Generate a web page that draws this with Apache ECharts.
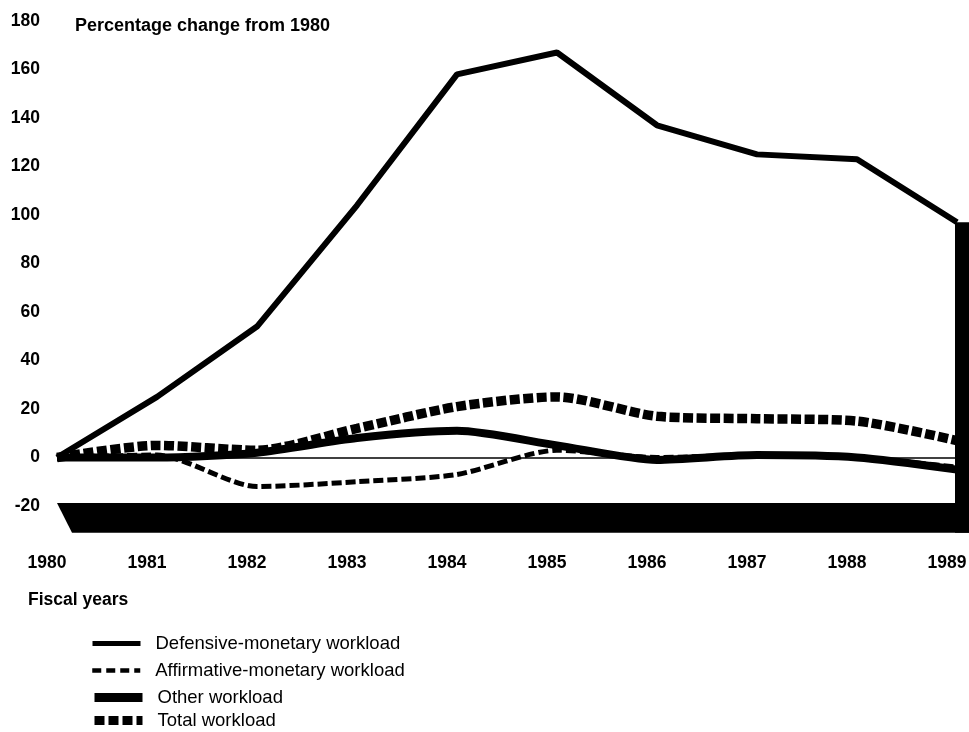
<!DOCTYPE html>
<html>
<head>
<meta charset="utf-8">
<script src="https://cdn.jsdelivr.net/npm/echarts@6/dist/echarts.min.js"></script>
<style>
  html, body { margin: 0; padding: 0; background: #fff; }
  #chart { width: 969px; height: 732px; }
</style>
</head>
<body>
<div id="chart"></div>
<script>
// fiscal years and percentage change from 1980
var years = [1980, 1981, 1982, 1983, 1984, 1985, 1986, 1987, 1988, 1989];
var defensive = [0, 25, 54, 104, 158, 167, 137, 125, 123, 97];
var affirmative = [0, 1, -12, -10, -7, 3, 0, 1, 0, -4];
var other = [0, 0, 2, 8, 11, 5, -1, 1, 0, -5];
var total = [0, 5, 3, 12, 21, 25, 17, 16, 15, 7];
var yTicks = [-20, 0, 20, 40, 60, 80, 100, 120, 140, 160, 180];

// black base band under the plot and the bar on the right edge
var band = [[1980, -18.8], [1989.12, -18.8], [1989.12, -31], [1980.15, -31]];
var edgeBar = [[1988.98, 97], [1989.12, 97], [1989.12, -31], [1988.98, -31]];

var FONT = '"Liberation Sans", Arial, sans-serif';

function pairs(vals) {
  return years.map(function (y, i) { return [y, vals[i]]; });
}

// one legend block per row, stacked under the axis
var legendRows = [
  { name: 'Defensive-monetary workload', lineStyle: { width: 5, type: 'solid' } },
  { name: 'Affirmative-monetary workload', lineStyle: { width: 4.5, type: [9, 5] } },
  { name: 'Other workload', lineStyle: { width: 9, type: 'solid' } },
  { name: 'Total workload', lineStyle: { width: 9, type: [10, 4] } }
];
var legendTops = [634, 661, 688, 711];

var chart = echarts.init(document.getElementById('chart'));

var option = {
  backgroundColor: '#fff',
  animation: false,
  title: [{
    text: 'Percentage change from 1980',
    left: 70, top: 12,
    textStyle: { fontFamily: FONT, fontSize: 18, fontWeight: 'bold', color: '#000' }
  }, {
    text: 'Fiscal years',
    left: 23, top: 586,
    textStyle: { fontFamily: FONT, fontSize: 17.5, fontWeight: 'bold', color: '#000' }
  }],
  grid: { left: 57, right: 12, top: 21, bottom: 177.5, outerBoundsMode: 'none' },
  xAxis: {
    type: 'value',
    min: 1980, max: 1989, interval: 1,
    axisLine: { show: false },
    axisTick: { show: false },
    splitLine: { show: false },
    axisLabel: {
      margin: 0,
      formatter: function (v) { return '{y|' + v + '}'; },
      rich: {
        y: { fontFamily: FONT, fontSize: 17.5, fontWeight: 'bold', color: '#000', padding: [0, 20, 0, 0] }
      }
    }
  },
  yAxis: {
    type: 'value',
    min: -40, max: 180, interval: 20,
    axisLine: { show: false },
    axisTick: { show: false },
    splitLine: { show: false },
    axisLabel: {
      margin: 17,
      fontFamily: FONT, fontSize: 17.5, fontWeight: 'bold', color: '#000',
      formatter: function (v) { return yTicks.indexOf(v) >= 0 ? String(v) : ''; }
    }
  },
  legend: legendRows.map(function (row, i) {
    return {
      orient: 'vertical',
      left: 90, top: legendTops[i],
      padding: 0,
      itemWidth: 48, itemHeight: 12,
      textStyle: { fontFamily: FONT, fontSize: 18.5, color: '#000', padding: [0, 0, 0, 10] },
      itemStyle: { opacity: 0 },
      data: [row]
    };
  }),
  series: [{
    type: 'custom',
    silent: true,
    clip: false,
    z: 1,
    data: [band, edgeBar],
    renderItem: function (params, api) {
      var poly = params.dataIndex === 0 ? band : edgeBar;
      return {
        type: 'polygon',
        shape: { points: poly.map(function (p) { return api.coord(p); }) },
        style: { fill: '#000' }
      };
    }
  }, {
    name: 'Affirmative-monetary workload',
    type: 'line',
    data: pairs(affirmative),
    symbol: 'none',
    smooth: 0.25,
    z: 2,
    lineStyle: { color: '#000', width: 5, type: [10, 4] },
    itemStyle: { color: '#000' },
    markLine: {
      silent: true,
      symbol: 'none',
      label: { show: false },
      lineStyle: { color: '#000', width: 1.5, type: 'solid' },
      data: [{ yAxis: 0 }]
    }
  }, {
    name: 'Other workload',
    type: 'line',
    data: pairs(other),
    symbol: 'none',
    smooth: 0.25,
    z: 3,
    lineStyle: { color: '#000', width: 8 },
    itemStyle: { color: '#000' }
  }, {
    name: 'Total workload',
    type: 'line',
    data: pairs(total),
    symbol: 'none',
    smooth: 0.25,
    z: 4,
    lineStyle: { color: '#000', width: 9.5, type: [10, 3.5] },
    itemStyle: { color: '#000' }
  }, {
    name: 'Defensive-monetary workload',
    type: 'line',
    data: pairs(defensive),
    symbol: 'none',
    z: 5,
    lineStyle: { color: '#000', width: 6 },
    itemStyle: { color: '#000' }
  }]
};

chart.setOption(option);
</script>
</body>
</html>
